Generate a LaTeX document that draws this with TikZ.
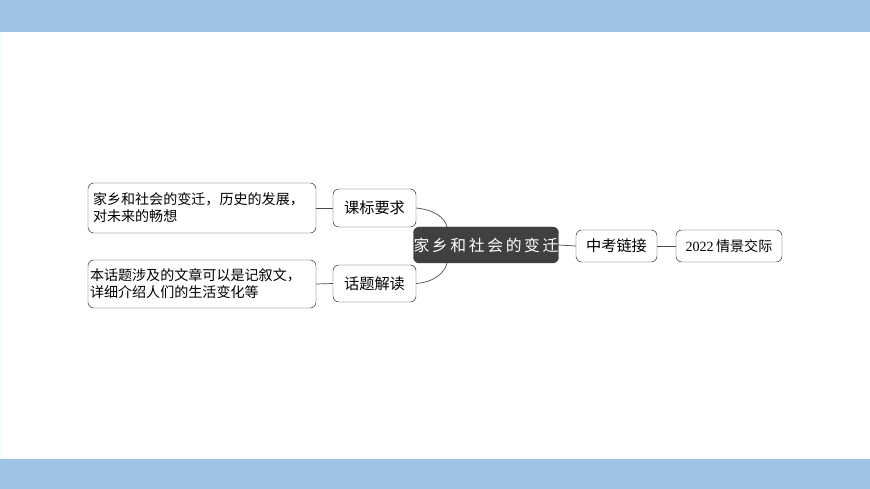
\documentclass[tikz,border=0pt]{standalone}
\usepackage{fontspec}
\newfontfamily\cjk{Noto Sans CJK SC}
\begin{document}
\begin{tikzpicture}[x=0.03cm,y=-0.03cm,
  bx/.style={draw=black!80,rounded corners=5pt,fill=white,inner sep=0pt,font=\cjk\fontsize{13}{15}\selectfont},
  big/.style={font=\cjk\fontsize{12}{14.5}\selectfont},
  ln/.style={draw=black!70,line width=0.6pt}]
\useasboundingbox (0,0) rectangle (870,489);
\fill[blue!10!cyan!5!white] (0,0) rectangle (870,489);
\fill[white] (2,32) rectangle (870,459);
\fill[color={rgb,255:red,157;green,195;blue,230}] (0,0) rectangle (870,32);
\fill[color={rgb,255:red,157;green,195;blue,230}] (0,459) rectangle (870,489);
\node[bx,big,minimum width=228*0.03cm,minimum height=50*0.03cm,align=left,text width=218*0.03cm] (a) at (202,208) {家乡和社会的变迁，历史的发展，\\对未来的畅想};
\node[bx,minimum width=83*0.03cm,minimum height=38*0.03cm] (k) at (374.5,208) {课标要求};
\node[bx,big,minimum width=228*0.03cm,minimum height=48*0.03cm,align=left,text width=224*0.03cm] (b) at (202,284) {本话题涉及的文章可以是记叙文，\\详细介绍人们的生活变化等};
\node[bx,minimum width=83*0.03cm,minimum height=37*0.03cm] (h) at (374.5,283.5) {话题解读};
\node[bx,fill=black!75,draw=black!75,text=white,minimum width=140*0.03cm,minimum height=36*0.03cm,font=\cjk\fontsize{13.5}{15}\selectfont] (c) at (486,245) {家\,乡\,和\,社\,会\,的\,变\,迁};
\node[bx,minimum width=81*0.03cm,minimum height=32*0.03cm] (z) at (616.5,246) {中考链接};
\node[bx,big,minimum width=106*0.03cm,minimum height=32*0.03cm] (q) at (729,246) {\fontspec{Liberation Serif}2022\,\cjk 情景交际};
\draw[ln] (a.east) -- (k.west);
\draw[ln] (b.east) -- (h.west);
\draw[ln] (k.east) .. controls (435,210) and (445,218) .. (447,227);
\draw[ln] (h.east) .. controls (435,282) and (445,272) .. (447,263);
\draw[ln] (c.east) -- (z.west);
\draw[ln] (z.east) -- (q.west);
\end{tikzpicture}
\end{document}
